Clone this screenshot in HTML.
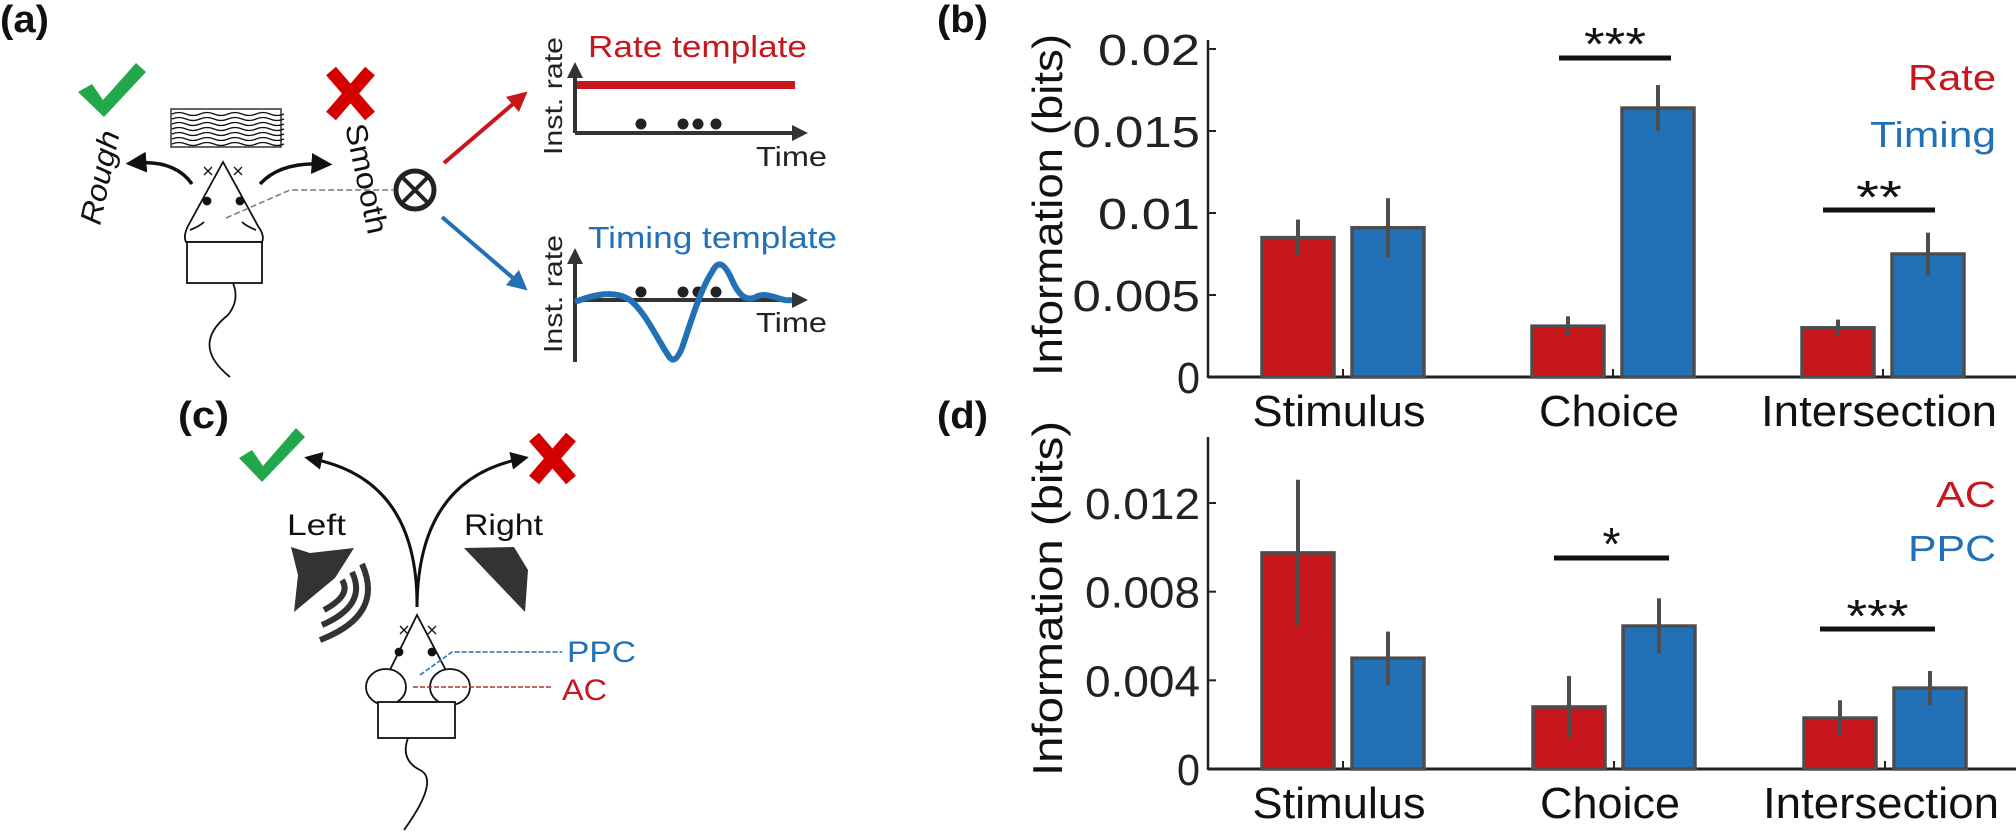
<!DOCTYPE html>
<html><head><meta charset="utf-8"><style>
html,body{margin:0;padding:0;background:#fff;}
svg{display:block;font-family:"Liberation Sans",sans-serif;}
</style></head><body>
<svg id="fig" width="2016" height="832" viewBox="0 0 2016 832" xmlns="http://www.w3.org/2000/svg">
<defs>
<marker id="ahK" markerWidth="6" markerHeight="6" refX="3" refY="3" orient="auto" markerUnits="strokeWidth"><path d="M0,0 L6,3 L0,6 z" fill="#111"/></marker>
<marker id="ahR" markerWidth="5" markerHeight="5" refX="2.5" refY="2.5" orient="auto" markerUnits="strokeWidth"><path d="M0,0 L5,2.5 L0,5 z" fill="#c8161d"/></marker>
<marker id="ahB" markerWidth="5" markerHeight="5" refX="2.5" refY="2.5" orient="auto" markerUnits="strokeWidth"><path d="M0,0 L5,2.5 L0,5 z" fill="#2270b5"/></marker>
<marker id="ahD" markerWidth="4" markerHeight="4" refX="2" refY="2" orient="auto" markerUnits="strokeWidth"><path d="M0,0 L4,2 L0,4 z" fill="#333"/></marker>
</defs>

<!-- panel labels -->
<g font-weight="bold" font-size="38" fill="#111">
<text x="0" y="32" textLength="49" lengthAdjust="spacingAndGlyphs">(a)</text>
<text x="937" y="32" textLength="51" lengthAdjust="spacingAndGlyphs">(b)</text>
<text x="178" y="428" textLength="51" lengthAdjust="spacingAndGlyphs">(c)</text>
<text x="937" y="428" textLength="51" lengthAdjust="spacingAndGlyphs">(d)</text>
</g>

<!-- ===== panel a ===== -->
<g>
<path d="M78,92 L92,84 L103,100 L136,63 L146,72 L104,117 Z" fill="#22a84a"/>
<g stroke="#d40000" stroke-width="13"><line x1="331" y1="71" x2="370" y2="116"/><line x1="370" y1="71" x2="331" y2="116"/></g>
<rect x="171" y="109" width="110" height="38" fill="#fff" stroke="#333" stroke-width="1.5"/>
<g fill="none" stroke="#111" stroke-width="1.3">
<path d="M172,114 q7,-3 14,0 t14,0 t14,0 t14,0 t14,0 t14,0 t14,0 t14,0"/>
<path d="M172,119 q7,-3 14,0 t14,0 t14,0 t14,0 t14,0 t14,0 t14,0 t14,0"/>
<path d="M172,124 q7,-3 14,0 t14,0 t14,0 t14,0 t14,0 t14,0 t14,0 t14,0"/>
<path d="M172,129 q7,-3 14,0 t14,0 t14,0 t14,0 t14,0 t14,0 t14,0 t14,0"/>
<path d="M172,134 q7,-3 14,0 t14,0 t14,0 t14,0 t14,0 t14,0 t14,0 t14,0"/>
<path d="M172,139 q7,-3 14,0 t14,0 t14,0 t14,0 t14,0 t14,0 t14,0 t14,0"/>
<path d="M172,144 q7,-3 14,0 t14,0 t14,0 t14,0 t14,0 t14,0 t14,0 t14,0"/>
</g>
<text transform="translate(100,226) rotate(-78)" font-size="30" font-style="italic" fill="#111" textLength="95" lengthAdjust="spacingAndGlyphs">Rough</text>
<text transform="translate(345,126) rotate(78)" font-size="30" fill="#111" textLength="112" lengthAdjust="spacingAndGlyphs">Smooth</text>
<path d="M192,184 Q175,160 136,163" fill="none" stroke="#111" stroke-width="3.5" marker-end="url(#ahK)"/>
<path d="M260,184 Q280,162 322,164" fill="none" stroke="#111" stroke-width="3.5" marker-end="url(#ahK)"/>
<g fill="#fff" stroke="#111" stroke-width="1.8">
<path d="M223,162 L188,226 Q183,236 186,242 L262,242 Q265,236 258,226 Z"/>
<rect x="187" y="242" width="75" height="41"/>
<path d="M233,283 Q240,300 228,315 Q190,345 230,377" fill="none"/>
<path d="M212,175 l-8,-8 M204,175 l8,-8 M234,175 l8,-8 M242,175 l-8,-8" stroke-width="1.3"/>
<circle cx="207" cy="201" r="3.5" fill="#111"/><circle cx="240" cy="201" r="3.5" fill="#111"/>
<path d="M190,230 q10,-4 14,-8 M256,230 q-10,-4 -14,-8" fill="none"/>
</g>
<path d="M226,218 L290,190 L393,190" fill="none" stroke="#777" stroke-width="1.5" stroke-dasharray="6,3"/>
<g><circle cx="415" cy="190" r="19" fill="#fff" stroke="#222" stroke-width="5"/><path d="M402,177 L428,203 M428,177 L402,203" stroke="#222" stroke-width="4"/></g>
<line x1="444" y1="163" x2="520" y2="98" stroke="#c8161d" stroke-width="4" marker-end="url(#ahR)"/>
<line x1="442" y1="217" x2="520" y2="284" stroke="#2270b5" stroke-width="4" marker-end="url(#ahB)"/>
<!-- rate template -->
<text x="588" y="57" font-size="31" fill="#c8161d" textLength="219" lengthAdjust="spacingAndGlyphs">Rate template</text>
<line x1="575" y1="85" x2="795" y2="85" stroke="#c8161d" stroke-width="8"/>
<line x1="575" y1="133" x2="575" y2="70" stroke="#333" stroke-width="4" marker-end="url(#ahD)"/>
<line x1="575" y1="133" x2="800" y2="133" stroke="#333" stroke-width="4" marker-end="url(#ahD)"/>
<g fill="#222"><circle cx="641" cy="124" r="5.5"/><circle cx="683" cy="124" r="5.5"/><circle cx="698" cy="124" r="5.5"/><circle cx="716" cy="124" r="5.5"/></g>
<text transform="translate(562,155) rotate(-90)" font-size="26" fill="#222" textLength="118" lengthAdjust="spacingAndGlyphs">Inst. rate</text>
<text x="756" y="166" font-size="28" fill="#222" textLength="71" lengthAdjust="spacingAndGlyphs">Time</text>
<!-- timing template -->
<text x="588" y="248" font-size="31" fill="#2270b5" textLength="249" lengthAdjust="spacingAndGlyphs">Timing template</text>
<line x1="575" y1="362" x2="575" y2="256" stroke="#333" stroke-width="4" marker-end="url(#ahD)"/>
<line x1="575" y1="300" x2="800" y2="300" stroke="#333" stroke-width="4" marker-end="url(#ahD)"/>
<g fill="#222"><circle cx="641" cy="292" r="5.5"/><circle cx="683" cy="292" r="5.5"/><circle cx="698" cy="292" r="5.5"/><circle cx="716" cy="292" r="5.5"/></g>
<path d="M575,302 C595,294 615,290 630,300 C645,312 655,335 668,355 C672,362 676,362 682,348 C690,325 700,290 712,272 C718,260 724,262 732,280 C740,298 748,302 758,296 C770,292 780,302 792,300" fill="none" stroke="#2270b5" stroke-width="6"/>
<text transform="translate(562,353) rotate(-90)" font-size="26" fill="#222" textLength="118" lengthAdjust="spacingAndGlyphs">Inst. rate</text>
<text x="756" y="332" font-size="28" fill="#222" textLength="71" lengthAdjust="spacingAndGlyphs">Time</text>
</g>

<!-- ===== panel c ===== -->
<g>
<path d="M239,458 L252,450 L263,466 L296,428 L305,437 L262,482 Z" fill="#22a84a"/>
<g stroke="#d40000" stroke-width="13"><line x1="534" y1="437" x2="571" y2="480"/><line x1="571" y1="437" x2="534" y2="480"/></g>
<path d="M417,607 Q418,480 313,459" fill="none" stroke="#111" stroke-width="3" marker-end="url(#ahK)"/>
<path d="M417,607 Q418,480 520,459" fill="none" stroke="#111" stroke-width="3" marker-end="url(#ahK)"/>
<text x="287" y="535" font-size="30" fill="#111" textLength="59" lengthAdjust="spacingAndGlyphs">Left</text>
<text x="464" y="535" font-size="30" fill="#111" textLength="79" lengthAdjust="spacingAndGlyphs">Right</text>
<path d="M291,547 L310,553 L354,548 L335,578 L294,612 L298,575 Z" fill="#333"/>
<g fill="none" stroke="#333" stroke-width="6">
<path d="M342,580 Q352,595 324,610"/><path d="M352,572 Q368,605 322,625"/><path d="M362,564 Q385,615 320,640"/></g>
<path d="M464,548 L514,547 L528,570 L525,612 Z" fill="#333"/>
<g fill="#fff" stroke="#111" stroke-width="1.8">
<path d="M417,615 L385,680 L382,702 L455,702 L451,680 Z"/>
<ellipse cx="386" cy="687" rx="20" ry="18"/><ellipse cx="450" cy="687" rx="20" ry="18"/>
<rect x="378" y="702" width="77" height="36"/>
<path d="M408,738 Q400,760 420,770 Q440,780 404,830" fill="none"/>
<path d="M400,626 l8,8 M400,634 l8,-8 M428,626 l8,8 M428,634 l8,-8" stroke-width="1.3"/>
<circle cx="399" cy="652" r="3.5" fill="#111"/><circle cx="432" cy="652" r="3.5" fill="#111"/>
</g>
<path d="M420,675 L452,652 L562,652" fill="none" stroke="#2270b5" stroke-width="1.5" stroke-dasharray="5,2"/>
<path d="M413,687 L552,687" fill="none" stroke="#a33" stroke-width="1.5" stroke-dasharray="5,2"/>
<text x="567" y="662" font-size="30" fill="#2270b5" textLength="69" lengthAdjust="spacingAndGlyphs">PPC</text>
<text x="562" y="700" font-size="30" fill="#c8161d" textLength="45" lengthAdjust="spacingAndGlyphs">AC</text>
</g>

<g id="chartB"></g>
<g id="chartD"></g>
</svg>
<script>
const categories = ["Stimulus", "Choice", "Intersection"];
const rateVals = [0.0085, 0.0031, 0.0030];
const rateErr = [0.0011, 0.0006, 0.0005];
const timingVals = [0.0091, 0.0164, 0.0075];
const timingErr = [0.0018, 0.0014, 0.0013];
const bTicks = [0, 0.005, 0.01, 0.015, 0.02];
const bTickLabels = ["0", "0.005", "0.01", "0.015", "0.02"];
const acVals = [0.00975, 0.0028, 0.0023];
const acErr = [0.0033, 0.0014, 0.0008];
const ppcVals = [0.0050, 0.00645, 0.00365];
const ppcErr = [0.0012, 0.00125, 0.00077];
const dTicks = [0, 0.004, 0.008, 0.012];
const dTickLabels = ["0", "0.004", "0.008", "0.012"];

const NS = "http://www.w3.org/2000/svg";
const RED = "#c8161d", BLUE = "#2270b5", EDGE = "#4d4d4d";
function mk(parent, tag, attrs, txt) {
  const e = document.createElementNS(NS, tag);
  for (const k in attrs) e.setAttribute(k, attrs[k]);
  if (txt !== undefined) e.textContent = txt;
  parent.appendChild(e);
  return e;
}
function drawChart(g, o) {
  const y = v => o.y0 - (v / o.vmax) * (o.y0 - o.yTop);
  const cx = i => o.xc0 + i * o.step;
  const axY = mk(g, "line", {x1: o.ax, y1: o.axTop, x2: o.ax, y2: o.y0 + 1, stroke: "#222", "stroke-width": 2.5});
  
  
  const axX = mk(g, "line", {x1: o.ax, y1: o.y0, x2: 2016, y2: o.y0, stroke: "#222", "stroke-width": 3});
  
  
  o.ticks.forEach((t, i) => {
    const tk = mk(g, "line", {x1: o.ax, y1: y(t), x2: o.ax + 8, y2: y(t), stroke: "#222", "stroke-width": 2});
    
    
    const lab = o.tickLabels[i];
    const tl = mk(g, "text", {x: o.ax - 8, y: y(t) + 16, "text-anchor": "end", "font-size": 44, fill: "#222", textLength: lab.length === 1 ? 23 : lab.length * o.charW, lengthAdjust: "spacingAndGlyphs"}, lab);
    
    
  });
  const yt = mk(g, "text", {transform: `translate(${o.titleX},${o.titleY}) rotate(-90)`, "font-size": 42, fill: "#111", textLength: o.titleLen, lengthAdjust: "spacingAndGlyphs"}, "Information (bits)");
  
  
  const catW = [173, 140, 236];
  categories.forEach((c, i) => {
    const xt = mk(g, "line", {x1: cx(i), y1: o.y0, x2: cx(i), y2: o.y0 - 8, stroke: "#222", "stroke-width": 2});
    
    
    const cl = mk(g, "text", {x: cx(i) - 4, y: o.catY, "text-anchor": "middle", "font-size": 44, fill: "#111", textLength: catW[i], lengthAdjust: "spacingAndGlyphs"}, c);
    
    
    [[o.s1, o.e1, RED, -45, o.n1], [o.s2, o.e2, BLUE, 45, o.n2]].forEach(([vals, errs, col, off, nm]) => {
      const xc = cx(i) + off, v = vals[i], e = errs[i];
      const b = mk(g, "rect", {x: xc - 36, y: y(v), width: 72, height: o.y0 - y(v), fill: col, stroke: EDGE, "stroke-width": 3.5});
      
      
      const eb = mk(g, "line", {x1: xc, y1: y(v + e), x2: xc, y2: y(v - e), stroke: EDGE, "stroke-width": 4});
      
      
    });
  });
  o.sig.forEach(s => {
    const sl = mk(g, "line", {x1: s.x1, y1: s.y, x2: s.x2, y2: s.y, stroke: "#111", "stroke-width": 5});
    
    
    const st = mk(g, "text", {x: (s.x1 + s.x2) / 2, y: s.ty, "text-anchor": "middle", "font-size": 46, fill: "#111", textLength: s.w, lengthAdjust: "spacingAndGlyphs"}, s.t);
    
    
  });
  o.legend.forEach(l => {
    const lt = mk(g, "text", {x: 1996, y: l.y, "text-anchor": "end", "font-size": 36, fill: l.c, textLength: l.w, lengthAdjust: "spacingAndGlyphs"}, l.t);
    
    
  });
}
drawChart(document.getElementById("chartB"), {
  ax: 1208, y0: 377, yTop: 49, axTop: 40, vmax: 0.02, xc0: 1343, step: 270,
  ticks: bTicks, tickLabels: bTickLabels, charW: 25.5,
  titleX: 1062, titleY: 376, titleLen: 342, catY: 426,
  s1: rateVals, e1: rateErr, s2: timingVals, e2: timingErr, n1: "rate", n2: "timing",
  sig: [{x1: 1559, x2: 1671, y: 58, ty: 60, t: "***", w: 62}, {x1: 1823, x2: 1935, y: 210, ty: 213, t: "**", w: 46}],
  legend: [{t: "Rate", c: RED, y: 90, w: 88}, {t: "Timing", c: BLUE, y: 147, w: 126}]
});
drawChart(document.getElementById("chartD"), {
  ax: 1208, y0: 769, yTop: 503, axTop: 437, vmax: 0.012, xc0: 1343, step: 271,
  ticks: dTicks, tickLabels: dTickLabels, charW: 23,
  titleX: 1062, titleY: 776, titleLen: 355, catY: 818,
  s1: acVals, e1: acErr, s2: ppcVals, e2: ppcErr, n1: "ac", n2: "ppc",
  sig: [{x1: 1554, x2: 1669, y: 558, ty: 560, t: "*", w: 18}, {x1: 1820, x2: 1935, y: 629, ty: 632, t: "***", w: 62}],
  legend: [{t: "AC", c: RED, y: 507, w: 60}, {t: "PPC", c: BLUE, y: 561, w: 88}]
});
</script>
</body></html>
